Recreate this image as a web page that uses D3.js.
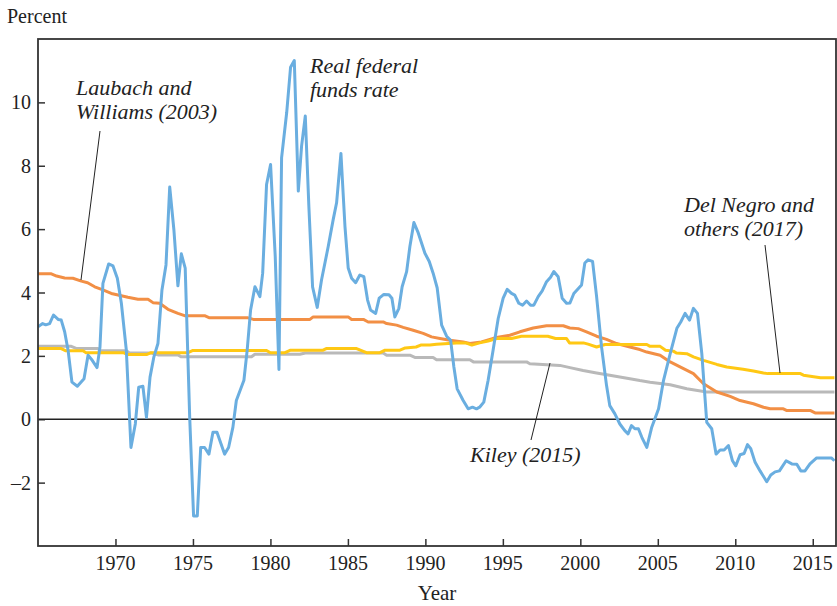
<!DOCTYPE html>
<html>
<head>
<meta charset="utf-8">
<script src="https://cdn.jsdelivr.net/npm/d3@7"></script>
<style>
  body { margin: 0; background: #fff; }
  text { font-family: "Liberation Serif", "DejaVu Serif", serif; fill: #222; }
</style>
</head>
<body>
<script>
'use strict';

// real federal funds rate, [year, percent]
const fedFunds = [[1965.0,2.92],[1965.3,3.02],[1965.5,2.98],[1965.75,3.02],[1966.0,3.29],[1966.3,3.15],[1966.5,3.13],[1966.72,2.76],[1966.94,2.18],[1967.19,1.17],[1967.54,1.04],[1967.97,1.28],[1968.23,2.02],[1968.5,1.86],[1968.81,1.63],[1969.0,2.28],[1969.19,4.29],[1969.56,4.9],[1969.84,4.84],[1970.12,4.45],[1970.38,3.66],[1970.7,2.18],[1971.0,-0.89],[1971.28,-0.15],[1971.5,1.01],[1971.77,1.04],[1972.0,0.06],[1972.23,1.33],[1972.48,1.97],[1972.74,2.39],[1973.0,4.08],[1973.26,4.87],[1973.5,7.33],[1973.77,5.98],[1974.03,4.21],[1974.25,5.22],[1974.5,4.77],[1974.79,0.06],[1975.04,-3.05],[1975.28,-3.05],[1975.5,-0.89],[1975.75,-0.89],[1976.03,-1.1],[1976.29,-0.41],[1976.55,-0.41],[1977.04,-1.1],[1977.3,-0.89],[1977.58,-0.25],[1977.8,0.59],[1978.29,1.23],[1978.5,2.18],[1978.72,3.45],[1979.0,4.18],[1979.32,3.87],[1979.5,4.61],[1979.75,7.41],[1980.01,8.04],[1980.31,5.14],[1980.55,1.57],[1980.72,8.25],[1981.05,9.68],[1981.3,11.11],[1981.54,11.32],[1981.8,7.2],[1982.01,8.62],[1982.25,9.57],[1982.48,6.72],[1982.72,4.18],[1983.02,3.53],[1983.3,4.4],[1983.73,5.45],[1984.05,6.3],[1984.27,6.83],[1984.55,8.39],[1984.81,6.09],[1985.02,4.77],[1985.24,4.45],[1985.5,4.31],[1985.77,4.55],[1986.03,4.5],[1986.27,3.76],[1986.46,3.45],[1986.79,3.34],[1987.02,3.82],[1987.32,3.94],[1987.65,3.93],[1987.84,3.82],[1988.03,3.23],[1988.29,3.5],[1988.5,4.18],[1988.79,4.66],[1989.0,5.45],[1989.26,6.21],[1989.54,5.88],[1989.97,5.24],[1990.25,4.98],[1990.5,4.61],[1990.76,4.15],[1991.05,2.97],[1991.37,2.62],[1991.63,2.49],[1991.84,1.65],[1992.05,0.96],[1992.44,0.59],[1992.76,0.33],[1993.04,0.38],[1993.3,0.33],[1993.5,0.38],[1993.77,0.54],[1994.05,1.23],[1994.37,2.18],[1994.7,3.18],[1995.02,3.82],[1995.28,4.1],[1995.56,3.97],[1995.77,3.92],[1996.03,3.66],[1996.27,3.6],[1996.53,3.73],[1996.79,3.6],[1997.0,3.6],[1997.28,3.87],[1997.54,4.05],[1997.82,4.34],[1998.08,4.48],[1998.29,4.66],[1998.57,4.5],[1998.83,3.82],[1999.11,3.66],[1999.33,3.67],[1999.58,3.97],[2000.08,4.24],[2000.29,4.93],[2000.5,5.03],[2000.79,4.98],[2001.05,3.87],[2001.37,2.28],[2001.69,1.07],[2001.9,0.43],[2002.23,0.17],[2002.55,-0.15],[2002.87,-0.36],[2003.08,-0.46],[2003.3,-0.2],[2003.52,-0.3],[2003.75,-0.3],[2003.97,-0.57],[2004.29,-0.89],[2004.61,-0.25],[2005.05,0.33],[2005.37,1.23],[2005.8,2.07],[2006.23,2.87],[2006.48,3.07],[2006.76,3.34],[2007.05,3.13],[2007.3,3.5],[2007.56,3.34],[2007.84,2.07],[2008.16,-0.1],[2008.48,-0.3],[2008.76,-1.1],[2009.02,-0.97],[2009.28,-0.97],[2009.56,-0.83],[2009.82,-1.31],[2010.03,-1.47],[2010.31,-1.12],[2010.57,-1.08],[2010.79,-0.8],[2011.0,-0.93],[2011.28,-1.36],[2011.6,-1.63],[2012.03,-1.97],[2012.29,-1.76],[2012.57,-1.66],[2012.85,-1.63],[2013.28,-1.31],[2013.65,-1.41],[2013.97,-1.42],[2014.23,-1.63],[2014.5,-1.63],[2014.82,-1.41],[2015.25,-1.22],[2015.68,-1.22],[2016.2,-1.22],[2016.4,-1.31]];

// Laubach and Williams (2003) r*
const laubachWilliams = [[1965.0,4.59],[1965.86,4.59],[1966.2,4.52],[1966.72,4.46],[1967.25,4.45],[1967.8,4.36],[1968.2,4.31],[1968.66,4.18],[1969.19,4.08],[1969.73,3.97],[1970.38,3.9],[1970.8,3.85],[1971.45,3.79],[1972.1,3.79],[1972.42,3.68],[1972.85,3.66],[1973.39,3.47],[1974.03,3.34],[1974.46,3.27],[1975.75,3.27],[1976.07,3.2],[1978.55,3.2],[1978.9,3.15],[1982.55,3.15],[1982.76,3.23],[1985.02,3.23],[1985.24,3.15],[1986.0,3.15],[1986.31,3.07],[1987.28,3.07],[1987.5,3.02],[1988.14,2.97],[1988.57,2.9],[1989.21,2.81],[1989.86,2.71],[1990.4,2.6],[1990.94,2.55],[1991.58,2.49],[1992.44,2.44],[1992.87,2.39],[1993.62,2.44],[1994.59,2.58],[1995.45,2.65],[1996.1,2.76],[1996.96,2.88],[1997.82,2.95],[1998.9,2.95],[1999.32,2.88],[1999.87,2.86],[2000.4,2.76],[2001.05,2.62],[2001.69,2.52],[2002.34,2.39],[2003.2,2.28],[2003.84,2.2],[2004.29,2.12],[2005.15,2.02],[2005.8,1.81],[2006.66,1.6],[2007.3,1.44],[2007.95,1.12],[2008.81,0.86],[2009.67,0.72],[2010.31,0.59],[2011.17,0.49],[2011.82,0.38],[2012.25,0.33],[2013.1,0.33],[2013.3,0.28],[2014.83,0.28],[2015.15,0.2],[2016.4,0.2]];

// Kiley (2015) r*
const kiley = [[1965.0,2.3],[1967.15,2.3],[1967.5,2.23],[1968.87,2.23],[1969.0,2.16],[1970.7,2.16],[1970.9,2.09],[1972.31,2.09],[1972.74,2.03],[1974.03,2.03],[1974.25,1.97],[1978.78,1.97],[1979.0,2.05],[1981.9,2.05],[1982.25,2.09],[1987.28,2.09],[1987.5,2.02],[1989.0,2.02],[1989.32,1.95],[1990.5,1.95],[1990.72,1.88],[1992.87,1.88],[1993.1,1.81],[1996.53,1.81],[1996.74,1.75],[1998.68,1.7],[1999.33,1.63],[2000.18,1.54],[2001.05,1.46],[2001.9,1.39],[2003.2,1.28],[2003.84,1.22],[2004.5,1.17],[2005.8,1.09],[2006.87,0.96],[2008.16,0.86],[2016.4,0.86]];

// Del Negro and others (2017) r*
const delNegro = [[1965.0,2.23],[1966.5,2.23],[1966.8,2.16],[1967.9,2.16],[1968.1,2.1],[1970.5,2.1],[1970.8,2.04],[1972.0,2.04],[1972.3,2.1],[1974.68,2.1],[1975.0,2.17],[1979.75,2.17],[1980.0,2.1],[1980.94,2.1],[1981.3,2.18],[1983.4,2.18],[1983.6,2.23],[1985.56,2.23],[1986.2,2.1],[1987.07,2.1],[1987.4,2.18],[1988.36,2.18],[1988.7,2.25],[1989.4,2.28],[1989.7,2.34],[1990.29,2.34],[1990.72,2.37],[1992.0,2.41],[1992.6,2.41],[1993.0,2.34],[1993.5,2.41],[1994.05,2.47],[1994.59,2.55],[1995.56,2.55],[1996.2,2.62],[1997.9,2.62],[1998.4,2.55],[1999.1,2.55],[1999.3,2.41],[2000.2,2.41],[2000.5,2.37],[2001.05,2.28],[2001.6,2.36],[2004.29,2.36],[2004.5,2.3],[2005.15,2.3],[2005.5,2.18],[2006.0,2.15],[2006.2,2.09],[2006.87,2.07],[2007.3,1.97],[2007.95,1.86],[2008.81,1.73],[2009.45,1.65],[2010.5,1.58],[2011.17,1.52],[2011.82,1.46],[2012.1,1.44],[2014.2,1.44],[2014.4,1.39],[2015.5,1.31],[2016.4,1.31]];

const xTicks = [1970, 1975, 1980, 1985, 1990, 1995, 2000, 2005, 2010, 2015];
const yTicks = [-2, 0, 2, 4, 6, 8, 10];

const width = 837, height = 606;
const box = { left: 38, right: 836, top: 39, bottom: 546 };

const svg = d3.select('body').append('svg')
  .attr('width', width)
  .attr('height', height);

const x = d3.scaleLinear().domain([1965, 2016.5]).range([box.left, box.right]);
const y = d3.scaleLinear().domain([-4, 12]).range([box.bottom, box.top]);

svg.append('defs').append('clipPath').attr('id', 'plot')
  .append('rect')
  .attr('x', box.left).attr('y', box.top)
  .attr('width', box.right - box.left).attr('height', box.bottom - box.top);

// axes with inward ticks
const xAxis = d3.axisTop(x).tickValues(xTicks).tickSize(7).tickFormat('');
svg.append('g')
  .attr('transform', `translate(0,${box.bottom})`)
  .call(xAxis)
  .call(g => g.select('.domain').remove())
  .call(g => g.selectAll('line').attr('stroke', '#333').attr('stroke-width', 1.5));

const yAxis = d3.axisRight(y).tickValues(yTicks).tickSize(7).tickFormat('');
svg.append('g')
  .attr('transform', `translate(${box.left},0)`)
  .call(yAxis)
  .call(g => g.select('.domain').remove())
  .call(g => g.selectAll('line').attr('stroke', '#333').attr('stroke-width', 1.5));

// tick labels
svg.append('g').selectAll('text')
  .data(xTicks).enter().append('text')
  .attr('x', d => x(d))
  .attr('y', 570)
  .attr('text-anchor', 'middle')
  .style('font-size', '20px')
  .text(d => d);

svg.append('g').selectAll('text')
  .data(yTicks).enter().append('text')
  .attr('x', 31)
  .attr('y', d => y(d) + 7)
  .attr('text-anchor', 'end')
  .style('font-size', '20px')
  .text(d => d < 0 ? '\u2013' + Math.abs(d) : d);

// zero line
svg.append('line')
  .attr('x1', box.left).attr('x2', box.right)
  .attr('y1', y(0)).attr('y2', y(0))
  .attr('stroke', '#222').attr('stroke-width', 1.5);

// lines
const line = d3.line().x(d => x(d[0])).y(d => y(d[1]));
const series = [
  { data: kiley, color: '#b9b9b9' },
  { data: laubachWilliams, color: '#f28f45' },
  { data: delNegro, color: '#ffc814' },
  { data: fedFunds, color: '#6aaee0' }
];
svg.append('g').attr('clip-path', 'url(#plot)')
  .selectAll('path')
  .data(series).enter().append('path')
  .attr('fill', 'none')
  .attr('stroke', d => d.color)
  .attr('stroke-width', 3)
  .attr('stroke-linejoin', 'round')
  .attr('d', d => line(d.data));

// frame
svg.append('rect')
  .attr('x', box.left).attr('y', box.top)
  .attr('width', box.right - box.left).attr('height', box.bottom - box.top)
  .attr('fill', 'none')
  .attr('stroke', '#333')
  .attr('stroke-width', 1.8);

// axis titles
svg.append('text')
  .attr('x', 7).attr('y', 23)
  .style('font-size', '20px')
  .text('Percent');

svg.append('text')
  .attr('x', 437).attr('y', 600)
  .attr('text-anchor', 'middle')
  .style('font-size', '21px')
  .text('Year');

// annotations
function note(lines, tx, ty) {
  const t = svg.append('text')
    .attr('x', tx).attr('y', ty)
    .style('font-size', '22px')
    .style('font-style', 'italic');
  lines.forEach((s, i) => {
    t.append('tspan').attr('x', tx).attr('dy', i === 0 ? 0 : 24).text(s);
  });
}
function leader(x1, y1, x2, y2) {
  svg.append('line')
    .attr('x1', x1).attr('y1', y1).attr('x2', x2).attr('y2', y2)
    .attr('stroke', '#222').attr('stroke-width', 1);
}

note(['Laubach and', 'Williams (2003)'], 76, 95);
leader(100, 131, 81, 280);

note(['Real federal', 'funds rate'], 310, 73);

note(['Del Negro and', 'others (2017)'], 684, 212);
leader(765, 245, 780, 373);

note(['Kiley (2015)'], 470, 462);
leader(531, 440, 550, 363);
</script>
</body>
</html>
